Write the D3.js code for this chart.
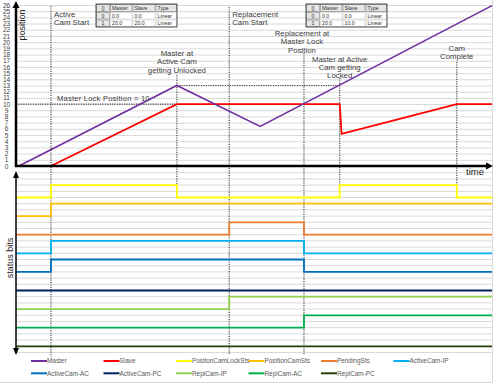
<!DOCTYPE html>
<html><head><meta charset="utf-8">
<script src="https://cdn.jsdelivr.net/npm/d3@7/dist/d3.min.js"></script>
<style>
html,body{margin:0;padding:0;background:#fff;}
svg{display:block;font-family:"Liberation Sans",Arial,sans-serif;}
</style></head>
<body>
<svg id="chart" width="494" height="385"></svg>
<script>
// ---------- DATA ----------
const positionTicks = [0,1,2,3,4,5,6,7,8,9,10,11,12,13,14,15,16,17,18,19,20,21,22,23,24,25,26];
const statusGridLevels = [0,1,2,3,4,5,6,7,8,9,10,11,12,13,14,15,16,17,18,19,20,21,22,23,24,25,26,27,28,29];

// time (0..100) , position
const masterData = [[0.6,0],[33.8,13],[51.3,6.4],[100,25.9]];
const slaveData  = [[7.35,0],[33.8,10],[68,10],[68.4,5.2],[92.6,10],[100,10]];

const masterLockPosition = 10;
const masterUnlockPosition = 13;

// event times
const tActiveCamStart = 7.35;
const tUnlock = 33.8;
const tReplStart = 44.8;
const tReplLock = 60.5;
const tActiveLock = 68;
const tCamComplete = 92.6;

// status bits: base level and [time, state] steps
const statusNames  = ["PositonCamLockSts","PositionCamSts","PendingSts","ActiveCam-IP","ActiveCam-AC","ActiveCam-PC","ReplCam-IP","ReplCam-AC","ReplCam-PC"];
const statusColors = ["#ffff00","#ffc000","#ed7d31","#00b0f0","#0070c0","#002060","#92d050","#00b050","#263f0c"];
const statusBase   = [25,22,19,16,13,10,7,4,1];
const statusSteps  = [
  [[0,0],[7.35,1],[33.8,0],[68,1],[92.6,0],[100,0]],
  [[0,0],[7.35,1],[100,1]],
  [[0,0],[44.8,1],[60.5,0],[100,0]],
  [[0,0],[7.35,1],[60.5,0],[100,0]],
  [[0,0],[7.35,1],[60.5,0],[100,0]],
  [[0,0],[100,0]],
  [[0,0],[44.8,1],[100,1]],
  [[0,0],[60.5,1],[100,1]],
  [[0,0],[100,0]]
];

const legendNames  = ["Master","Slave","PositonCamLockSts","PositionCamSts","PendingSts","ActiveCam-IP","ActiveCam-AC","ActiveCam-PC","ReplCam-IP","ReplCam-AC","ReplCam-PC"];
const legendColors = ["#7030a0","#ff0000","#ffff00","#ffc000","#ed7d31","#00b0f0","#0070c0","#002060","#92d050","#00b050","#263f0c"];

const tableHeader = ["[]","Master","Slave","Type"];
const table1Rows = [["0","0.0","0.0","Linear"],["1","20.0","20.0","Linear"]];
const table2Rows = [["0","0.0","0.0","Linear"],["1","20.0","10.0","Linear"]];

// ---------- DRAW ----------
const svg = d3.select("#chart");
const x = d3.scaleLinear().domain([0,100]).range([16,492]);
const yTop = d3.scaleLinear().domain([0,26]).range([166,5]);
const yBot = d3.scaleLinear().domain([0,29]).range([352.5,172.7]);

// frame
svg.append("path").attr("d","M492.5,0V382.5H0").attr("fill","none").attr("stroke","#d9d9d9");

// gridlines top
svg.append("g").selectAll("line").data(positionTicks).join("line")
  .attr("x1",x(0)).attr("x2",x(100))
  .attr("y1",d=>yTop(d)+0.5).attr("y2",d=>yTop(d)+0.5)
  .attr("stroke","#d9d9d9").attr("stroke-width",1);
// gridlines bottom
svg.append("g").selectAll("line").data(statusGridLevels).join("line")
  .attr("x1",x(0)).attr("x2",x(100))
  .attr("y1",d=>yBot(d)).attr("y2",d=>yBot(d))
  .attr("stroke","#d9d9d9").attr("stroke-width",1);

// y tick labels (top)
const yAxis = d3.axisLeft(yTop).tickValues(positionTicks).tickSize(0).tickPadding(0);
const ga = svg.append("g").attr("transform","translate(6.5,0)").call(yAxis);
ga.select(".domain").remove();
ga.selectAll("text").attr("text-anchor","middle").attr("font-size",6.5)
  .attr("font-family","Liberation Sans, Arial, sans-serif").attr("fill","#404040");

// dotted helper lines
const dot = (x1,y1,x2,y2)=>svg.append("line").attr("x1",x1).attr("y1",y1).attr("x2",x2).attr("y2",y2)
  .attr("stroke","#404040").attr("stroke-width",1.1).attr("stroke-dasharray","1.2,1.2");
dot(x(tActiveCamStart),6,x(tActiveCamStart),357);
dot(x(tUnlock),75,x(tUnlock),185);
dot(x(tReplStart),7,x(tReplStart),355);
dot(x(tReplLock),53,x(tReplLock),355);
dot(x(tActiveLock),78,x(tActiveLock),185);
dot(x(tCamComplete),62,x(tCamComplete),185);
dot(x(0),yTop(masterLockPosition),x(tUnlock),yTop(masterLockPosition));
dot(x(tUnlock),yTop(masterUnlockPosition),x(tActiveLock),yTop(masterUnlockPosition));

// status lines
const stepLine = d3.line().curve(d3.curveStepAfter);
statusSteps.forEach((steps,i)=>{
  svg.append("path")
    .attr("d",stepLine(steps.map(s=>[x(s[0]), yBot(statusBase[i]+2*s[1])])))
    .attr("fill","none").attr("stroke",statusColors[i]).attr("stroke-width",1.8);
});

// master / slave
const line = d3.line().x(d=>x(d[0])).y(d=>yTop(d[1]));
svg.append("path").attr("d",line(slaveData)).attr("fill","none").attr("stroke","#ff0000").attr("stroke-width",1.8);
svg.append("path").attr("d",line(masterData)).attr("fill","none").attr("stroke","#7030a0").attr("stroke-width",1.6);

// axes
const axisG = svg.append("g");
axisG.append("line").attr("x1",x(0)).attr("y1",yTop(0)).attr("x2",x(0)).attr("y2",6).attr("stroke","#000").attr("stroke-width",2.5);
axisG.append("path").attr("d",`M${x(0)},1 L${x(0)-3.5},8 L${x(0)+3.5},8Z`).attr("fill","#000");
axisG.append("line").attr("x1",x(0)-1.2).attr("y1",yTop(0)).attr("x2",487).attr("y2",yTop(0)).attr("stroke","#000").attr("stroke-width",2.5);
axisG.append("path").attr("d",`M493,${yTop(0)} L486,${yTop(0)-3.5} L486,${yTop(0)+3.5}Z`).attr("fill","#000");
// status axis (double arrow)
axisG.append("line").attr("x1",x(0)).attr("y1",176).attr("x2",x(0)).attr("y2",350).attr("stroke","#000").attr("stroke-width",1.5);
axisG.append("path").attr("d",`M${x(0)},171 L${x(0)-3},178 L${x(0)+3},178Z`).attr("fill","#000");
axisG.append("path").attr("d",`M${x(0)},355 L${x(0)-3},348 L${x(0)+3},348Z`).attr("fill","#000");

// axis titles
svg.append("text").attr("transform","translate(25,25) rotate(-90)").attr("text-anchor","middle")
  .attr("font-size",9).attr("fill","#222").text("position");
svg.append("text").attr("transform","translate(13,258) rotate(-90)").attr("text-anchor","middle")
  .attr("font-size",9).attr("fill","#222").text("status bits");
svg.append("text").attr("x",475).attr("y",175).attr("text-anchor","middle")
  .attr("font-size",9.5).attr("fill","#222").text("time");

// annotations
const ann = (lines,xx,y0,anchor)=>{
  const t = svg.append("text").attr("font-size",7.8).attr("fill","#404040").attr("text-anchor",anchor);
  lines.forEach((l,i)=>t.append("tspan").attr("x",xx).attr("y",y0+i*8.3).text(l));
};
ann(["Active","Cam Start"],x(tActiveCamStart)+3,16.5,"start");
ann(["Replacement","Cam Start"],x(tReplStart)+3,16.5,"start");
ann(["Master at","Active Cam","getting Unlocked"],x(tUnlock),56,"middle");
ann(["Replacement at","Master Lock","Position"],x(tReplLock)-2,36,"middle");
ann(["Master at Active","Cam getting","Locked"],x(tActiveLock),61.5,"middle");
ann(["Cam","Complete"],x(tCamComplete),50.5,"middle");
svg.append("text").attr("x",57).attr("y",100.5).attr("font-size",7.5).attr("fill","#404040")
  .attr("letter-spacing",0.25).text("Master Lock Position = "+masterLockPosition);

// tables
const colW = [14,22.5,23,21.5];
const rowH = [8,7.5,7.5];
function drawTable(x0,y0,rows){
  const g = svg.append("g");
  const all = [tableHeader].concat(rows);
  let yy = y0;
  all.forEach((r,ri)=>{
    let xx = x0;
    r.forEach((c,ci)=>{
      const hdr = ri===0 || ci===0;
      g.append("rect").attr("x",xx+0.5).attr("y",yy+0.5).attr("width",colW[ci]-1).attr("height",rowH[ri]-1)
        .attr("fill",hdr?"#e6e6e6":"#fff").attr("stroke",hdr?"#8c8c8c":"#cfcfcf").attr("stroke-width",0.7);
      g.append("text").attr("x",ci===0?xx+colW[ci]/2:xx+2).attr("y",yy+rowH[ri]/2+2)
        .attr("text-anchor",ci===0?"middle":"start").attr("font-size",5.2).attr("fill","#333").text(c);
      xx += colW[ci];
    });
    yy += rowH[ri];
  });
  g.append("rect").attr("x",x0).attr("y",y0).attr("width",d3.sum(colW)).attr("height",d3.sum(rowH))
    .attr("fill","none").attr("stroke","#404040").attr("stroke-width",0.9);
}
drawTable(96,4,table1Rows);
drawTable(306,4,table2Rows);

// legend
const lg = svg.append("g");
legendNames.forEach((n,i)=>{
  const col = i<6 ? i : i-6, row = i<6?0:1;
  const lx = 31 + col*72.5, ly = 361 + row*12.3;
  lg.append("line").attr("x1",lx).attr("x2",lx+16).attr("y1",ly).attr("y2",ly)
    .attr("stroke",legendColors[i]).attr("stroke-width",2);
  lg.append("text").attr("x",lx+16).attr("y",ly+2.3).attr("font-size",6.4).attr("fill","#595959").text(n);
});
</script>
</body></html>
